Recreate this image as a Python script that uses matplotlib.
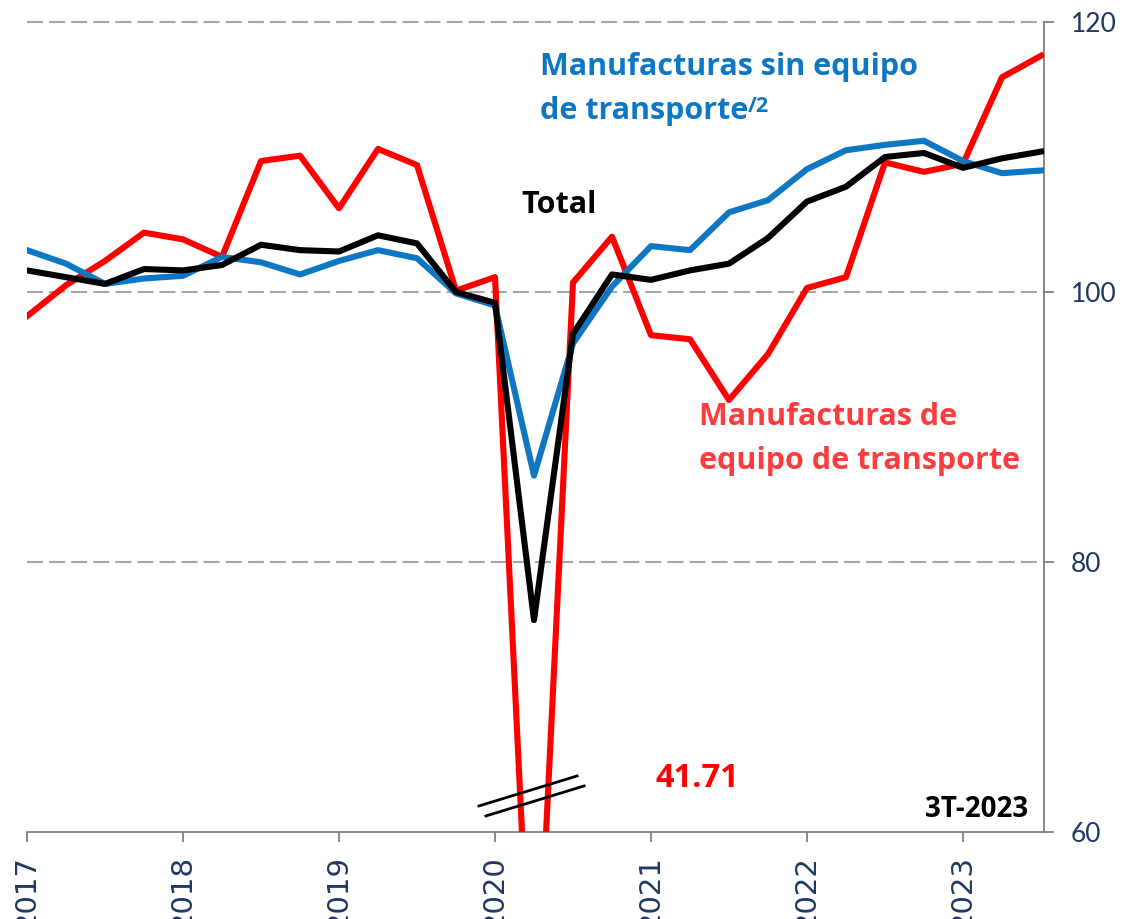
import matplotlib
matplotlib.use("Agg")
import matplotlib.pyplot as plt
import numpy as np

# ---- data (quarterly, 2017T1 .. 2023T3) ----
years = [2017, 2018, 2019, 2020, 2021, 2022, 2023]
quarters = np.array([y + q / 4 for y in range(2017, 2024) for q in range(4)][:27])

transporte = [98.2, 100.5, 102.3, 104.4, 103.9, 102.6, 109.7, 110.1, 106.2, 110.6, 109.4, 100.1,
              101.1, 41.71, 100.7, 104.1, 96.8, 96.5, 92.0, 95.4, 100.3, 101.1, 109.6, 108.9,
              109.5, 115.9, 117.5]
sin_transporte = [103.1, 102.1, 100.6, 101.0, 101.2, 102.6, 102.2, 101.3, 102.3, 103.1, 102.5, 99.9,
                  99.0, 86.4, 96.2, 100.4, 103.4, 103.1, 105.9, 106.8, 109.1, 110.5, 110.9, 111.2,
                  109.7, 108.8, 109.0]
total = [101.6, 101.1, 100.6, 101.7, 101.6, 102.0, 103.5, 103.1, 103.0, 104.2, 103.6, 100.0,
         99.2, 75.7, 96.9, 101.3, 100.9, 101.6, 102.1, 104.0, 106.7, 107.8, 110.0, 110.3,
         109.2, 109.9, 110.4]
yticks = [60, 80, 100, 120]
gridvals = [80, 100, 120]

RED = "#FF0000"
RED_TXT = "#FF3B3B"
BLUE = "#0E77C3"
NAVY = "#1F3763"
GRAY = "#7F7F7F"

fig = plt.figure(figsize=(11.27, 9.19), dpi=100)
ax = fig.add_axes([27 / 1127, (919 - 832) / 919, (1044 - 27) / 1127, 810 / 919])

for g in gridvals:
    ax.axhline(g, color="#A6A6A6", lw=1.5, ls=(0, (7.7, 2.9)), zorder=1, clip_on=False)

lw = 4.4
ax.plot(quarters, transporte, color=RED, lw=lw, solid_joinstyle="round", zorder=3)
ax.plot(quarters, sin_transporte, color=BLUE, lw=lw, solid_joinstyle="round", zorder=4)
ax.plot(quarters, total, color="black", lw=lw, solid_joinstyle="round", zorder=5)

ax.set_xlim(2017, 2017 + (1044 - 27) / 156)
ax.set_ylim(60, 120)

# spines
for s in ["left", "top"]:
    ax.spines[s].set_visible(False)
for s in ["right", "bottom"]:
    ax.spines[s].set_color(GRAY)
    ax.spines[s].set_linewidth(1.3)

ax.yaxis.tick_right()
ax.set_yticks(yticks)
ax.set_yticklabels([str(v) for v in yticks], fontfamily="Lato", fontsize=19, color=NAVY)
ax.tick_params(axis="y", direction="out", length=7.5, width=1.3, color=GRAY, pad=12)

ax.set_xticks(years)
ax.set_xticklabels([str(y) for y in years], rotation=90, fontfamily="DejaVu Sans",
                   fontsize=21, color=NAVY, va="top", ha="center")
ax.tick_params(axis="x", direction="out", length=7.5, width=1.3, color=GRAY, pad=9)

# annotations
bold = dict(fontfamily="Open Sans", fontweight="bold")
ax.text(2020.288, 116.07, "Manufacturas sin equipo", color=BLUE, fontsize=22, va="baseline", **bold)
t2 = ax.text(2020.288, 112.81, "de transporte", color=BLUE, fontsize=22, va="baseline", **bold)
ax.annotate("/2", xy=(1.0, 1.0), xycoords=t2, xytext=(0, 0), textcoords="offset points",
            color=BLUE, fontsize=15.5, va="top", ha="left", **bold)
ax.text(2020.167, 105.85, "Total", color="black", fontsize=22, va="baseline", **bold)
ax.text(2021.308, 90.15, "Manufacturas de", color=RED_TXT, fontsize=22, va="baseline", **bold)
ax.text(2021.308, 86.89, "equipo de transporte", color=RED_TXT, fontsize=22, va="baseline", **bold)
ax.text(2021.032, 63.33, "41.71", color=RED, fontsize=23.5, va="baseline", **bold)
ax.text(2023.417, 61.11, "3T-2023", color="black", fontsize=20, va="baseline", ha="right", **bold)

# axis break marks
ax.plot([2019.897, 2020.526], [61.93, 64.15], color="black", lw=2.0, zorder=6)
ax.plot([2019.942, 2020.571], [61.19, 63.41], color="black", lw=2.0, zorder=6)

fig.savefig("out.png", dpi=100)
